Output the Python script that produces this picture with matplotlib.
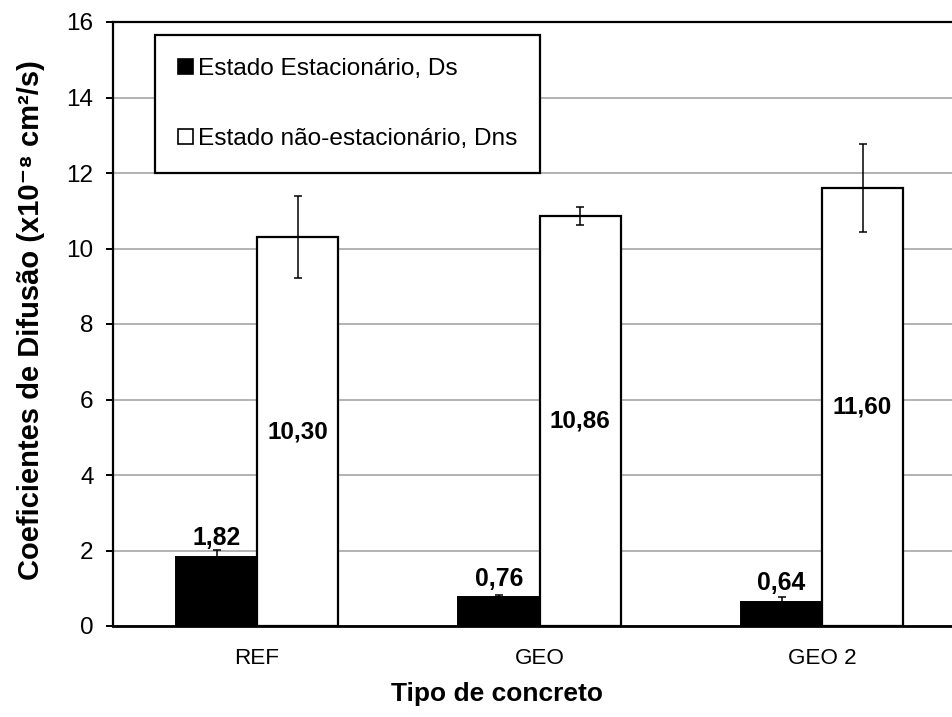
import numpy as np
import matplotlib
matplotlib.use("Agg")
import matplotlib.pyplot as plt
from matplotlib.patches import Patch

plt.rcParams['font.family'] = ['Liberation Sans', 'DejaVu Sans']

categories = ['REF', 'GEO', 'GEO 2']
ds = [1.82, 0.76, 0.64]
ds_err = [0.20, 0.06, 0.14]
dns = [10.30, 10.86, 11.60]
dns_err = [1.08, 0.25, 1.17]
yticks = [0, 2, 4, 6, 8, 10, 12, 14, 16]

label_ds = 'Estado Estacionário, Ds'
label_dns = 'Estado não-estacionário, Dns'


def fmt(v):
    return f"{v:.2f}".replace('.', ',')


fig = plt.figure(figsize=(9.52, 7.17), dpi=100)
W, H = 952, 717
left_px, right_px, top_px, bottom_px = 113, 960.5, 22, 626
ax = fig.add_axes([left_px / W, (H - bottom_px) / H,
                   (right_px - left_px) / W, (bottom_px - top_px) / H])

x = np.arange(len(categories))
bw = 0.287

err_kw = dict(ecolor='black', elinewidth=1.1, capsize=3.2, capthick=1.1)
ax.bar(x - bw / 2, ds, bw, color='black', edgecolor='black', linewidth=1.4,
       yerr=ds_err, error_kw=err_kw, zorder=3)
ax.bar(x + bw / 2, dns, bw, color='white', edgecolor='black', linewidth=1.6,
       yerr=dns_err, error_kw=err_kw, zorder=3)

# value labels: above the solid bars, centred inside the open bars
for xi, v in zip(x - bw / 2, ds):
    ax.annotate(fmt(v), (xi, v), xytext=(0, 8.5), textcoords='offset points',
                ha='center', va='baseline', fontsize=17.8, fontweight='bold',
                zorder=5)
for xi, v in zip(x + bw / 2, dns):
    ax.text(xi, v / 2, fmt(v), ha='center', va='center', fontsize=17.5,
            fontweight='bold', zorder=5)

ax.set_xlim(-0.51, 2.49)
ax.set_ylim(0, 16)
ax.set_yticks(yticks)
ax.set_yticklabels([str(t) for t in yticks])
ax.set_xticks(x)
ax.set_xticklabels(categories)

ax.yaxis.grid(True, color='#a6a6a6', linewidth=1.2)
ax.set_axisbelow(True)

for s in ['left', 'top', 'bottom']:
    ax.spines[s].set_linewidth(1.6)
    ax.spines[s].set_color('black')
ax.spines['bottom'].set_linewidth(2.0)
ax.spines['right'].set_visible(False)

ax.tick_params(axis='y', direction='out', length=5, width=1.4, pad=9,
               labelsize=17.5)
ax.tick_params(axis='x', length=0, pad=16, labelsize=16.2)

ax.set_xlabel('Tipo de concreto', fontsize=19, fontweight='bold')
ax.xaxis.set_label_coords(0.453, -0.092)
ax.set_ylabel('Coeficientes de Difusão (x10⁻⁸ cm²/s)', fontsize=21,
              fontweight='bold')
ax.yaxis.set_label_coords(-0.08, 0.506)

handles = [Patch(facecolor='black', edgecolor='black', linewidth=1.2),
           Patch(facecolor='white', edgecolor='black', linewidth=1.2)]
leg = ax.legend(handles, [label_ds, label_dns], loc='upper left',
                bbox_to_anchor=((155 - left_px) / (right_px - left_px),
                                (bottom_px - 35) / (bottom_px - top_px)),
                borderaxespad=0, fontsize=17.6, frameon=True, fancybox=False,
                shadow=False, handlelength=0.6, handleheight=0.6,
                handletextpad=0.2, labelspacing=1.95, borderpad=0.95)
leg.get_frame().set_edgecolor('black')
leg.get_frame().set_linewidth(1.6)
leg.get_frame().set_facecolor('white')
leg.get_frame().set_alpha(1)
leg.set_zorder(6)

fig.savefig('out.png', dpi=100)
